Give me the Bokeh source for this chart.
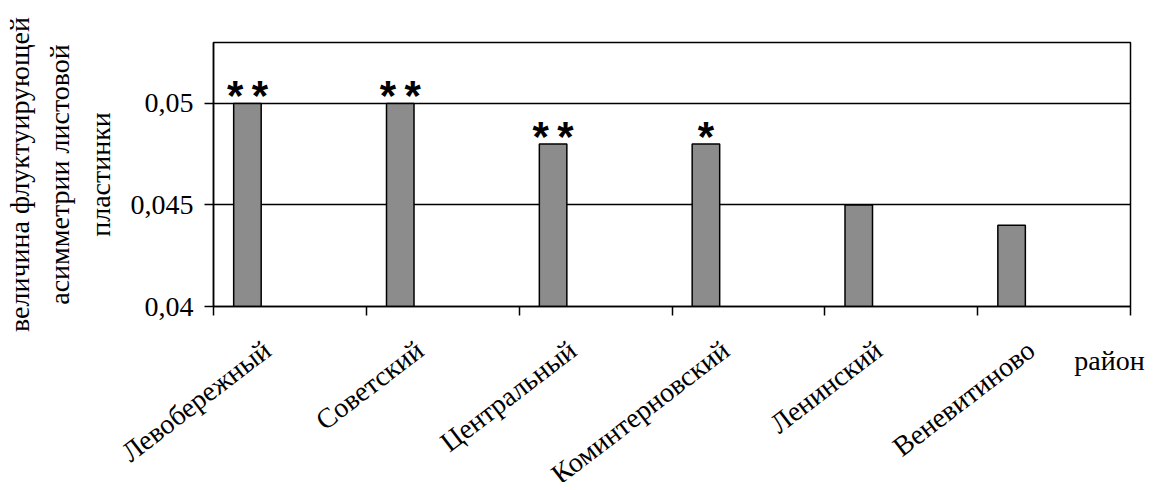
import math
from bokeh.plotting import figure
from bokeh.models import (Range1d, FixedTicker, CustomJSTickFormatter, ColumnDataSource)
from bokeh.core.properties import value
from bokeh.embed import file_html
from bokeh.resources import INLINE

# ---- data ----
districts = ["Левобережный", "Советский", "Центральный", "Коминтерновский", "Ленинский", "Веневитиново"]
asymmetry = [0.050, 0.050, 0.048, 0.048, 0.045, 0.044]
significance = ["**", "**", "**", "*", "", ""]
ytick_values = [0.04, 0.045, 0.05]
ytick_labels = ["0,04", "0,045", "0,05"]
y_title = "величина флуктуирующей\nасимметрии листовой\nпластинки"
x_title = "район"

SERIF = "Liberation Serif"
FS = "28px"

n = len(districts)
idx = list(range(n))
bar_pos = [i + 0.222 for i in idx]
label_pos = [i + 0.35 for i in idx]

p = figure(frame_width=917, frame_height=264, output_backend="svg", toolbar_location=None,
           x_range=Range1d(0, n), y_range=Range1d(0.04, 0.053),
           min_border_left=205, min_border_right=16, min_border_top=42, min_border_bottom=176)
p.background_fill_color = "white"
p.border_fill_color = "white"
p.outline_line_color = "black"
p.outline_line_width = 1.5

src = ColumnDataSource(dict(x=bar_pos, top=asymmetry,
                            stars=[s.replace("**", "*\u2009*") for s in significance]))
p.vbar(x="x", top="top", bottom=0.04, width=0.18, source=src,
       fill_color="#8c8c8c", line_color="black", line_width=1.5)
p.text(x="x", y="top", text="stars", source=src, text_align="center",
       text_baseline="alphabetic", y_offset=-8,
       text_font=value("'Liberation Sans'"), text_font_style="bold",
       text_font_size="42px", text_color="black")

# grid
p.xgrid.visible = False
p.ygrid.ticker = FixedTicker(ticks=[0.045, 0.05])
p.ygrid.grid_line_color = "black"
p.ygrid.grid_line_width = 1.5

# y axis
ya = p.yaxis[0]
ya.ticker = FixedTicker(ticks=ytick_values)
ya.formatter = CustomJSTickFormatter(args=dict(vals=ytick_values, labs=ytick_labels), code="""
    let best = 0;
    for (let i = 0; i < vals.length; i++) {
        if (Math.abs(vals[i] - tick) < Math.abs(vals[best] - tick)) best = i;
    }
    return labs[best];
""")
ya.axis_line_color = "black"
ya.axis_line_width = 1.5
ya.major_tick_line_color = "black"
ya.major_tick_line_width = 1.5
ya.major_tick_out = 9
ya.major_tick_in = 0
ya.minor_tick_line_color = None
ya.major_label_standoff = 11
ya.major_label_text_font = SERIF
ya.major_label_text_font_size = FS
ya.major_label_text_color = "black"
ya.axis_label = y_title
ya.axis_label_text_font = SERIF
ya.axis_label_text_font_size = FS
ya.axis_label_text_font_style = "normal"
ya.axis_label_text_color = "black"
ya.axis_label_text_line_height = 1.3
ya.axis_label_standoff = 12

# x axis
xa = p.xaxis[0]
xa.ticker = FixedTicker(ticks=label_pos, minor_ticks=idx + [n])
xa.formatter = CustomJSTickFormatter(args=dict(names=districts), code="""
    const i = Math.floor(tick);
    return (i >= 0 && i < names.length) ? names[i] : "";
""")
xa.axis_line_color = "black"
xa.axis_line_width = 1.5
xa.major_tick_line_color = None
xa.major_tick_out = 0
xa.major_tick_in = 0
xa.minor_tick_line_color = "black"
xa.minor_tick_line_width = 1.5
xa.minor_tick_out = 9
xa.minor_tick_in = 0
xa.major_label_orientation = math.radians(37.5)
xa.major_label_standoff = 31
xa.major_label_text_font = SERIF
xa.major_label_text_font_size = FS
xa.major_label_text_color = "black"
xa.axis_label = x_title + "\u2003\u2002"
xa.axis_label_align = "end"
xa.axis_label_standoff = -160
xa.axis_label_text_font = SERIF
xa.axis_label_text_font_size = FS
xa.axis_label_text_font_style = "normal"
xa.axis_label_text_color = "black"

open("out.html", "w").write(file_html(p, INLINE))
